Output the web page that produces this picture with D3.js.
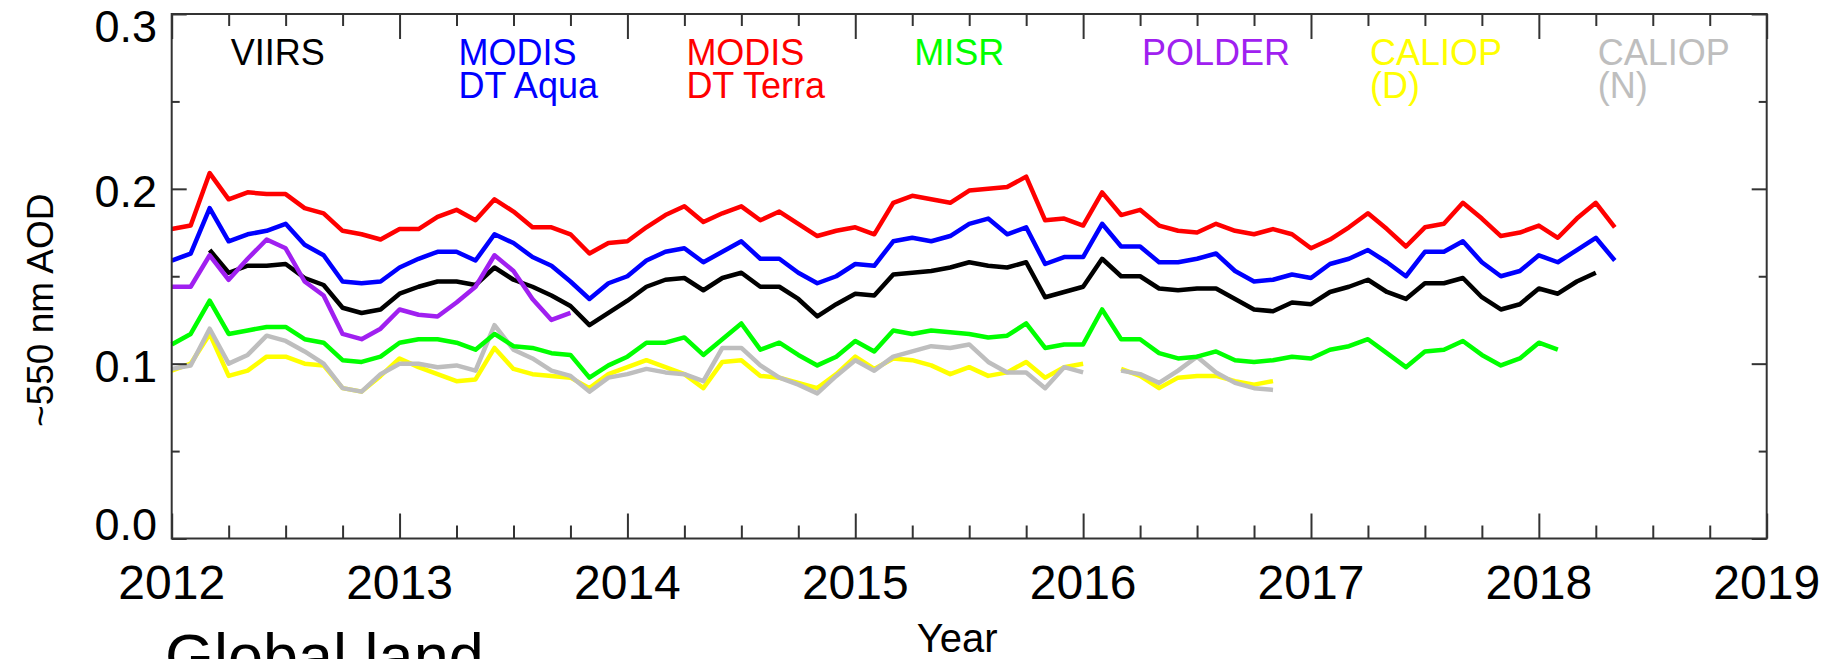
<!DOCTYPE html>
<html>
<head>
<meta charset="utf-8">
<script src="https://cdn.jsdelivr.net/npm/d3@7"></script>
<style>
  body { margin: 0; background: #fff; }
  svg { display: block; font-family: "Liberation Sans", Arial, Helvetica, sans-serif; }
</style>
</head>
<body>
<div id="chart"></div>
<script>
// monthly values, index 0 = Jan 2012
const startYear = 2012
const years = [2012, 2013, 2014, 2015, 2016, 2017, 2018, 2019]
const yTicks = [0.0, 0.1, 0.2, 0.3]

const viirs = [null, null, 0.165, 0.152, 0.156, 0.156, 0.157, 0.149, 0.145, 0.132, 0.129, 0.131,
  0.140, 0.144, 0.147, 0.147, 0.145, 0.155, 0.148, 0.144, 0.139, 0.133, 0.122, 0.129,
  0.136, 0.144, 0.148, 0.149, 0.142, 0.149, 0.152, 0.144, 0.144, 0.137, 0.127, 0.134,
  0.140, 0.139, 0.151, 0.152, 0.153, 0.155, 0.158, 0.156, 0.155, 0.158, 0.138, 0.141,
  0.144, 0.160, 0.150, 0.150, 0.143, 0.142, 0.143, 0.143, 0.137, 0.131, 0.130, 0.135,
  0.134, 0.141, 0.144, 0.148, 0.141, 0.137, 0.146, 0.146, 0.149, 0.138, 0.131, 0.134,
  0.143, 0.140, 0.147, 0.152]
const modisAqua = [0.159, 0.163, 0.189, 0.170, 0.174, 0.176, 0.180, 0.168, 0.162, 0.147, 0.146, 0.147,
  0.155, 0.160, 0.164, 0.164, 0.159, 0.174, 0.169, 0.161, 0.156, 0.147, 0.137, 0.146,
  0.150, 0.159, 0.164, 0.166, 0.158, 0.164, 0.170, 0.160, 0.160, 0.152, 0.146, 0.150,
  0.157, 0.156, 0.170, 0.172, 0.170, 0.173, 0.180, 0.183, 0.174, 0.178, 0.157, 0.161,
  0.161, 0.180, 0.167, 0.167, 0.158, 0.158, 0.160, 0.163, 0.153, 0.147, 0.148, 0.151,
  0.149, 0.157, 0.160, 0.165, 0.158, 0.150, 0.164, 0.164, 0.170, 0.158, 0.150, 0.153,
  0.162, 0.158, 0.165, 0.172, 0.159]
const modisTerra = [0.177, 0.179, 0.209, 0.194, 0.198, 0.197, 0.197, 0.189, 0.186, 0.176, 0.174, 0.171,
  0.177, 0.177, 0.184, 0.188, 0.182, 0.194, 0.187, 0.178, 0.178, 0.174, 0.163, 0.169,
  0.170, 0.178, 0.185, 0.190, 0.181, 0.186, 0.190, 0.182, 0.187, 0.180, 0.173, 0.176,
  0.178, 0.174, 0.192, 0.196, 0.194, 0.192, 0.199, 0.200, 0.201, 0.207, 0.182, 0.183,
  0.179, 0.198, 0.185, 0.188, 0.179, 0.176, 0.175, 0.180, 0.176, 0.174, 0.177, 0.174,
  0.166, 0.171, 0.178, 0.186, 0.177, 0.167, 0.178, 0.180, 0.192, 0.183, 0.173, 0.175,
  0.179, 0.172, 0.183, 0.192, 0.178]
const misr = [0.111, 0.117, 0.136, 0.117, 0.119, 0.121, 0.121, 0.114, 0.112, 0.102, 0.101, 0.104,
  0.112, 0.114, 0.114, 0.112, 0.108, 0.117, 0.110, 0.109, 0.106, 0.105, 0.092, 0.099,
  0.104, 0.112, 0.112, 0.115, 0.105, 0.114, 0.123, 0.108, 0.112, 0.105, 0.099, 0.104,
  0.113, 0.107, 0.119, 0.117, 0.119, 0.118, 0.117, 0.115, 0.116, 0.123, 0.109, 0.111,
  0.111, 0.131, 0.114, 0.114, 0.106, 0.103, 0.104, 0.107, 0.102, 0.101, 0.102, 0.104,
  0.103, 0.108, 0.110, 0.114, 0.106, 0.098, 0.107, 0.108, 0.113, 0.105, 0.099, 0.103,
  0.112, 0.108]
const polder = [0.144, 0.144, 0.162, 0.148, 0.160, 0.171, 0.166, 0.147, 0.139, 0.117, 0.114, 0.120,
  0.131, 0.128, 0.127, 0.135, 0.144, 0.162, 0.153, 0.137, 0.125, 0.129]
const caliopDay = [0.096, 0.100, 0.117, 0.093, 0.096, 0.104, 0.104, 0.100, 0.099, 0.086, 0.084, 0.093,
  0.103, 0.098, 0.094, 0.090, 0.091, 0.109, 0.097, 0.094, 0.093, 0.092, 0.086, 0.094,
  0.098, 0.102, 0.098, 0.094, 0.086, 0.101, 0.102, 0.093, 0.092, 0.089, 0.086, 0.094,
  0.104, 0.097, 0.103, 0.102, 0.099, 0.094, 0.098, 0.093, 0.095, 0.101, 0.092, 0.098,
  0.100, null, 0.097, 0.093, 0.086, 0.092, 0.093, 0.093, 0.090, 0.088, 0.090]
const caliopNight = [0.097, 0.099, 0.120, 0.100, 0.105, 0.116, 0.113, 0.107, 0.100, 0.086, 0.084, 0.094,
  0.100, 0.100, 0.098, 0.099, 0.096, 0.122, 0.108, 0.103, 0.096, 0.093, 0.084, 0.092,
  0.094, 0.097, 0.095, 0.094, 0.090, 0.109, 0.109, 0.099, 0.092, 0.088, 0.083, 0.093,
  0.102, 0.096, 0.104, 0.107, 0.110, 0.109, 0.111, 0.101, 0.095, 0.095, 0.086, 0.098,
  0.095, null, 0.096, 0.094, 0.089, 0.096, 0.104, 0.095, 0.089, 0.086, 0.085]

const series = [
  { name: ['CALIOP', '(D)'], values: caliopDay, color: '#ffff00', slot: 5 },
  { name: ['CALIOP', '(N)'], values: caliopNight, color: '#bebebe', slot: 6 },
  { name: ['MISR'], values: misr, color: '#00ff00', slot: 3 },
  { name: ['VIIRS'], values: viirs, color: '#000000', slot: 0 },
  { name: ['POLDER'], values: polder, color: '#a020f0', slot: 4 },
  { name: ['MODIS', 'DT Aqua'], values: modisAqua, color: '#0000ff', slot: 1 },
  { name: ['MODIS', 'DT Terra'], values: modisTerra, color: '#ff0000', slot: 2 }
]

const width = 1844, height = 659
const margin = { left: 171.7, right: 77.3, top: 14, bottom: 120.5 }

const svg = d3.select('#chart').append('svg')
  .attr('width', width)
  .attr('height', height)

const x = d3.scaleLinear()
  .domain([2012, 2019])
  .range([margin.left, width - margin.right])
const y = d3.scaleLinear()
  .domain([0, 0.3])
  .range([height - margin.bottom, margin.top])

const x0 = x.range()[0], x1 = x.range()[1], y0 = y.range()[0], y1 = y.range()[1]

// lines
const line = d3.line()
  .defined(d => d[1] != null)
  .x(d => x(d[0]))
  .y(d => y(d[1]))

series.forEach(s => {
  const pts = s.values.map((v, i) => [startYear + i / 12, v])
  svg.append('path')
    .datum(pts)
    .attr('fill', 'none')
    .attr('stroke', s.color)
    .attr('stroke-width', 4.5)
    .attr('stroke-linejoin', 'round')
    .attr('d', line)
})

// axes (IDL style: ticks inward on every side)
const axisColor = '#333'
const quarters = d3.range(2012, 2019.01, 0.25).filter(t => Math.abs(t - Math.round(t)) > 0.01)
const halfTicks = [0.05, 0.15, 0.25]

function styleAxis (g) {
  g.select('.domain').remove()
  g.selectAll('.tick line').attr('stroke', axisColor).attr('stroke-width', 2)
  g.selectAll('.tick text').remove()
}

svg.append('g').attr('transform', `translate(0,${y0})`)
  .call(d3.axisBottom(x).tickValues(years).tickSize(-25)).call(styleAxis)
svg.append('g').attr('transform', `translate(0,${y0})`)
  .call(d3.axisBottom(x).tickValues(quarters).tickSize(-13)).call(styleAxis)
svg.append('g').attr('transform', `translate(0,${y1})`)
  .call(d3.axisTop(x).tickValues(years).tickSize(-25)).call(styleAxis)
svg.append('g').attr('transform', `translate(0,${y1})`)
  .call(d3.axisTop(x).tickValues(quarters).tickSize(-12)).call(styleAxis)
svg.append('g').attr('transform', `translate(${x0},0)`)
  .call(d3.axisLeft(y).tickValues(yTicks).tickSize(-15)).call(styleAxis)
svg.append('g').attr('transform', `translate(${x0},0)`)
  .call(d3.axisLeft(y).tickValues(halfTicks).tickSize(-8)).call(styleAxis)
svg.append('g').attr('transform', `translate(${x1},0)`)
  .call(d3.axisRight(y).tickValues(yTicks).tickSize(-15)).call(styleAxis)
svg.append('g').attr('transform', `translate(${x1},0)`)
  .call(d3.axisRight(y).tickValues(halfTicks).tickSize(-8)).call(styleAxis)

svg.append('rect')
  .attr('x', x0).attr('y', y1)
  .attr('width', x1 - x0).attr('height', y0 - y1)
  .attr('fill', 'none')
  .attr('stroke', axisColor)
  .attr('stroke-width', 2)

// tick labels
svg.selectAll('.xlab')
  .data(years)
  .enter().append('text')
    .attr('class', 'xlab')
    .attr('x', d => x(d))
    .attr('y', 599)
    .attr('text-anchor', 'middle')
    .attr('font-size', '48px')
    .text(d => d)

svg.selectAll('.ylab')
  .data(yTicks)
  .enter().append('text')
    .attr('class', 'ylab')
    .attr('x', 157)
    .attr('y', d => {
      if (d === 0.3) return y(d) + 28
      if (d === 0) return y(d) + 1
      return y(d) + 18
    })
    .attr('text-anchor', 'end')
    .attr('font-size', '45px')
    .text(d => d.toFixed(1))

svg.append('text')
  .attr('transform', `translate(53,${(y0 + y1) / 2 + 34}) rotate(-90)`)
  .attr('text-anchor', 'middle')
  .attr('font-size', '37px')
  .text('~550 nm AOD')

svg.append('text')
  .attr('x', (x0 + x1) / 2 - 12)
  .attr('y', 652)
  .attr('text-anchor', 'middle')
  .attr('font-size', '40px')
  .text('Year')

svg.append('text')
  .attr('x', 165)
  .attr('y', 678)
  .attr('font-size', '63px')
  .text('Global land')

// legend labels, one per year column
series.forEach(s => {
  s.name.forEach((n, k) => {
    svg.append('text')
      .attr('x', x(2012.25 + s.slot) + 2)
      .attr('y', 65 + k * 33)
      .attr('font-size', '36px')
      .attr('fill', s.color)
      .text(n)
  })
})
</script>
</body>
</html>
